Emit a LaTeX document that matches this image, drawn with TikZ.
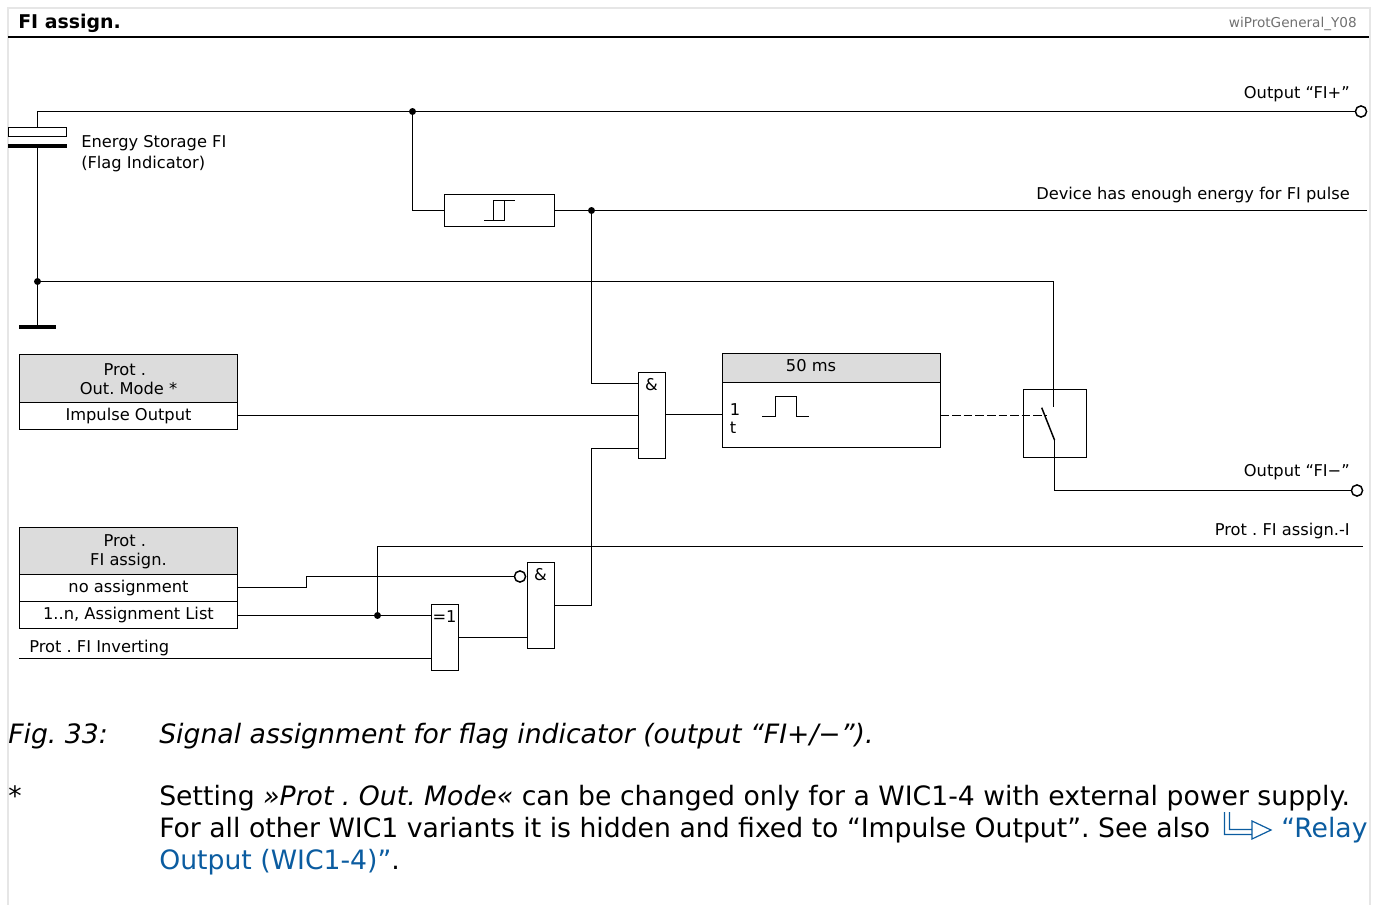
\documentclass[tikz,border=0pt]{standalone}
\usepackage{fontspec}
\setmainfont{DejaVu Sans}
\usepackage{xcolor}
\usetikzlibrary{calc}
\definecolor{headgray}{HTML}{DCDCDC}
\definecolor{framegray}{HTML}{E6E6E6}
\definecolor{linkblue}{HTML}{0B5CA0}
\definecolor{tagGray}{HTML}{707070}
\frenchspacing
\tikzset{
    wire/.style={line width=1.1pt},
    lbl/.style={inner sep=0pt, font=\fontsize{12.2}{14.25}\selectfont},
    lblr/.style={lbl, anchor=base east},
    lbll/.style={lbl, anchor=base west},
    gate/.style={draw, line width=1.1pt, inner sep=0pt, outer sep=0pt, minimum width=#1*0.75pt},
    tall/.style={minimum height=#1*0.75pt},
    head/.style={gate=#1, fill=headgray},
    row/.style={gate=#1, lbl, text height=9pt, text depth=2pt},
    dot/.style={circle, fill=black, inner sep=0pt, outer sep=0pt, minimum size=5.2pt},
    neg/.style={circle, draw, fill=white, line width=1.1pt, inner sep=0pt, outer sep=0pt, minimum size=8.4pt},
    captxt/.style={inner sep=0pt, anchor=base west, font=\fontsize{20}{24}\selectfont},
}

\begin{document}
\begin{tikzpicture}[x=0.75pt, y=-0.75pt]
    \useasboundingbox (0,0) rectangle (1375,905);

    % frame and title
    \draw[framegray, line width=1.5pt] (8,905) -- (8,8) -- (1370,8) -- (1370,905);
    \draw[line width=2.2pt] (8,37) -- (1369,37);
    \node[lbl, anchor=base west, font=\fontsize{14.2}{18}\bfseries] (title) at (18,29) {FI assign.};
    \node[lbl, anchor=base east, font=\fontsize{10.2}{12}\selectfont, text=tagGray] (tag) at (1357,27.5) {wiProtGeneral\_Y08};

    % energy storage
    \node[gate=58, tall=9] (capTop) at (37.5,132) {};
    \node[gate=59, tall=4, fill=black, draw=none] (capBot) at (37.5,146.3) {};
    \node[gate=36.5, tall=4, fill=black, draw=none] (gnd) at (37.5,327) {};
    \node[lbll] (capLbl) at (81,148) {Energy Storage FI};
    \node[lbll] at (81,168.5) {(Flag Indicator)};
    \node[dot] (jGnd) at (37.5,281.5) {};
    \node[dot] (jTop) at (412.5,111.5) {};
    \node[neg] (outPlus) at (1361,111.5) {};
    \draw[wire] (capBot) -- (gnd);
    \draw[wire] (capTop.north) |- (outPlus);
    \node[lblr] at (1350,98.5) {Output “FI+”};

    % threshold
    \node[gate=110, tall=32] (thr) at (499.5,210.5) {};
    \node[dot] (jThr) at (591.5,210.5) {};
    \coordinate (devEnd) at (1367,210.5);
    \draw[wire] (jTop) |- (thr.west);
    \draw[wire] (thr.east) -- (devEnd);
    \draw[line width=0.9pt] (484,220.5) -- (504.5,220.5) -- (504.5,200.5) -- (514.7,200.5)
        (493.5,220.5) -- (493.5,200.5) -- (504.5,200.5);
    \node[lblr] at (1350,199.5) {Device has enough energy for FI pulse};

    % Out. Mode
    \node[head=218, tall=48] (modeHead) at (128.5,378.5) {};
    \node[lbl, align=center] at (128.5,379.3) {Prot .\hspace*{.45em}\\Out. Mode *};
    \node[row=218, tall=27, anchor=north] (modeRow) at (modeHead.south) {Impulse Output};

    % FI assign.
    \node[head=218, tall=47] (asgHead) at (128.5,551) {};
    \node[lbl, align=center] at (128.5,552) {Prot .\hspace*{.45em}\\FI assign.};
    \node[row=218, tall=27, anchor=north] (asgNone) at (asgHead.south) {no assignment};
    \node[row=218, tall=27, anchor=north] (asgList) at (asgNone.south) {1..n, Assignment List};
    \node[lbll] at (29,652) {Prot . FI Inverting};
    \coordinate (invStart) at (19,658.5);

    % gates
    \node[gate=27, tall=86] (andA) at (652,415.5) {};
    \node[gate=27, tall=86] (andB) at (541,605.5) {};
    \node[gate=27, tall=66] (xorA) at (445,637.5) {};
    \node[lbl] at (651.5,384.5) {\&};
    \node[lbl] at (540.5,574.5) {\&};
    \node[lbl] at (444.5,616.5) {=1};

    % pulse
    \node[gate=218, tall=29, fill=headgray] (pulseHead) at (831.5,368) {};
    \node[gate=218, tall=65, anchor=north] (pulseBody) at (pulseHead.south) {};
    \node[lbl] at (811,365.5) {50 ms};
    \node[lbl] at (735,409.5) {1};
    \node[lbl] at (733,428) {t};
    \draw[line width=0.9pt] (762.3,416.5) -- (775.5,416.5) -- (775.5,396.5) -- (796.5,396.5) -- (796.5,416.5) -- (809.3,416.5);

    % switch
    \node[gate=63, tall=68] (sw) at (1055,423.5) {};
    \coordinate (swIn) at (1053.5,407);
    \coordinate (swOut) at (1054.5,440);
    \coordinate (swArm) at (1041.7,407.7);
    \coordinate (swMid) at (1047,415.5);
    \node[neg] (outMinus) at (1357,490.5) {};
    \draw[wire] (jGnd) -| (swIn);
    \draw[wire] (swArm) -- (swOut);
    \draw[wire] (swOut) |- (outMinus);
    \draw[wire, dash pattern=on 6.5pt off 2.2pt] (pulseBody.east |- swMid) -- (swMid);
    \node[lblr] at (1350,476.5) {Output “FI−”};

    % wiring of the logic
    \node[dot] (jList) at (377.5,615.5) {};
    \node[neg] (negB) at (520,576.5) {};
    \coordinate (asgEnd) at (1363,546.5);
    \coordinate (kink) at (306.5,576.5);
    \draw[wire] (jThr) |- (andA.west |- 0,383.5);
    \draw[wire] (modeRow.east |- 0,415.5) -- (andA.west |- 0,415.5);
    \draw[wire] (andA.east |- 0,414.5) -- (pulseBody.west |- 0,414.5);
    \draw[wire] (andB.east |- 0,605.5) -| (591.5,448.5) -- (andA.west |- 0,448.5);
    \draw[wire] (asgNone.east |- 0,587.5) -| (kink) -- (negB);
    \draw[wire] (asgList.east |- jList) -- (xorA.west |- jList);
    \draw[wire] (jList) |- (asgEnd);
    \draw[wire] (invStart) -- (xorA.west |- invStart);
    \draw[wire] (xorA.east) -- (andB.west |- xorA.east);
    \node[lblr] at (1350,535.5) {Prot . FI assign.-I};

    % caption
    \node[captxt] (figNo) at (8,743) {\itshape Fig. 33:};
    \node[captxt] (figTxt) at (159,743) {\itshape Signal assignment for flag indicator (output “FI+/−”).};
    \node[captxt] (star) at (8,805) {*};
    \node[captxt] (noteA) at (159,805) {Setting \textit{»Prot . Out. Mode«} can be changed only for a WIC1-4 with external power supply.};
    \node[captxt] (noteB) at (159,837) {For all other WIC1 variants it is hidden and fixed to “Impulse Output”. See also};
    \node[captxt, text=linkblue] (noteC) at (1281,837) {“Relay};
    \node[captxt] (noteD) at (159,869) {\textcolor{linkblue}{Output (WIC1-4)”}.};
    \draw[linkblue, line width=0.9pt] (1224.5,812) -- (1224.5,834.5) -- (1252,834.5) (1229.5,812) -- (1229.5,829.5) -- (1252,829.5)
        (1252,821) -- (1271,830) -- (1252,839) -- cycle;
\end{tikzpicture}
\end{document}
